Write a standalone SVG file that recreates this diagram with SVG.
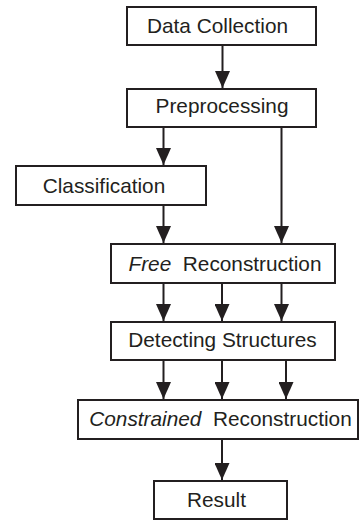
<svg xmlns="http://www.w3.org/2000/svg" width="360" height="520" viewBox="0 0 360 520">
  <style>
    .box { fill: #ffffff; stroke: #231f20; stroke-width: 2; }
    .lbl { font-family: "Liberation Sans", Arial, sans-serif; font-size: 20.8px; fill: #231f20; text-anchor: middle; white-space: pre; }
    .it { font-style: italic; }
    .wire { stroke: #231f20; stroke-width: 2; fill: none; marker-end: url(#head); }
  </style>
  <defs>
    <marker id="head" markerUnits="userSpaceOnUse" markerWidth="17" markerHeight="15" refX="17" refY="7.5" orient="auto">
      <path d="M0,0 L17,7.5 L0,15 Z" fill="#231f20"/>
    </marker>
  </defs>
  <rect width="360" height="520" fill="#ffffff"/>

  <g id="connectors">
    <line class="wire" x1="222.5" y1="46" x2="222.5" y2="88"/>
    <line class="wire" x1="163.5" y1="128" x2="163.5" y2="165"/>
    <line class="wire" x1="281.5" y1="128" x2="281.5" y2="243"/>
    <line class="wire" x1="163.5" y1="206" x2="163.5" y2="243"/>
    <line class="wire" x1="163.5" y1="284" x2="163.5" y2="321"/>
    <line class="wire" x1="222" y1="284" x2="222" y2="321"/>
    <line class="wire" x1="281.5" y1="284" x2="281.5" y2="321"/>
    <line class="wire" x1="163.5" y1="361" x2="163.5" y2="399"/>
    <line class="wire" x1="222" y1="361" x2="222" y2="399"/>
    <line class="wire" x1="286" y1="361" x2="286" y2="399"/>
    <line class="wire" x1="222" y1="440" x2="222" y2="480"/>
  </g>

  <g id="data-collection">
    <rect class="box" x="127" y="7" width="189" height="38"/>
    <text class="lbl" x="217.5" y="33">Data Collection</text>
  </g>
  <g id="preprocessing">
    <rect class="box" x="127" y="89" width="189" height="38"/>
    <text class="lbl" x="222" y="113">Preprocessing</text>
  </g>
  <g id="classification">
    <rect class="box" x="16" y="166" width="190" height="39"/>
    <text class="lbl" x="104" y="193">Classification</text>
  </g>
  <g id="free-reconstruction">
    <rect class="box" x="111" y="244" width="224" height="39"/>
    <text class="lbl" x="225" y="271" xml:space="preserve"><tspan class="it">Free</tspan>  Reconstruction</text>
  </g>
  <g id="detecting-structures">
    <rect class="box" x="111" y="322" width="224" height="38"/>
    <text class="lbl" x="222.5" y="347">Detecting Structures</text>
  </g>
  <g id="constrained-reconstruction">
    <rect class="box" x="78" y="400" width="280" height="39"/>
    <text class="lbl" x="220.5" y="426" xml:space="preserve"><tspan class="it">Constrained</tspan>  Reconstruction</text>
  </g>
  <g id="result">
    <rect class="box" x="154" y="481" width="133" height="38"/>
    <text class="lbl" x="216.5" y="507">Result</text>
  </g>
</svg>
